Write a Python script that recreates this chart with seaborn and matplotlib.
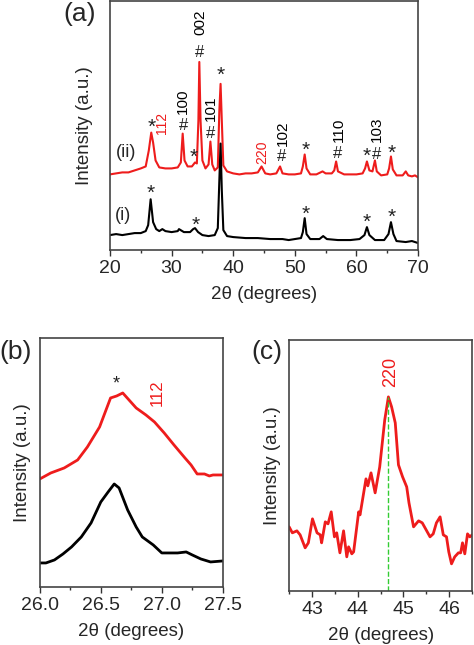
import matplotlib
matplotlib.use("Agg")
import matplotlib.pyplot as plt
import seaborn as sns
from matplotlib.ticker import MultipleLocator

# values (y in arbitrary offset units)
two_theta_i = [20, 21, 22, 23, 24, 25, 25.8, 26.2, 26.6, 27.0, 27.5, 28, 28.5, 29, 30, 31, 31.2,
               32, 33, 33.5, 33.8, 34.3, 35, 36, 37, 37.5, 37.75, 37.95, 38.15, 38.4, 39, 40,
               42, 44, 46, 48, 49, 50, 51, 51.3, 51.6, 51.9, 52.5, 54, 54.6, 55.2, 57, 59,
               60.5, 61.3, 61.7, 62.1, 63, 64.5, 65.2, 65.6, 66.0, 66.5, 68, 69, 70]
intensity_i = [15, 16, 15, 16, 17, 17, 19, 25, 51, 28, 21, 19, 21, 19, 18, 19, 21,
               18, 18, 21, 22, 18, 15, 14, 15, 22, 70, 107, 60, 20, 14, 13,
               12, 12, 11, 11, 10, 11, 12, 18, 32, 16, 11, 11, 14, 11, 10, 10,
               11, 15, 23, 15, 10, 10, 16, 28, 16, 9, 8, 9, 7]

two_theta_ii = [20, 21, 22, 23, 24, 25, 25.8, 26.3, 26.7, 27.0, 27.4, 28, 29, 30, 31, 31.5, 31.8,
                32.1, 32.6, 33.3, 33.8, 34.1, 34.35, 34.5, 34.7, 35.0, 35.5, 36.0, 36.3, 36.6,
                37.0, 37.5, 37.75, 37.95, 38.15, 38.4, 39, 40, 41, 42, 43, 44, 44.6, 45.2, 46,
                47, 47.6, 48, 49, 50, 51, 51.3, 51.6, 51.9, 52.5, 53.5, 54.5, 55, 56, 56.4,
                56.7, 57.0, 58, 59, 60, 61, 61.4, 61.7, 62.1, 62.6, 63.0, 63.3, 64, 65, 65.3,
                65.6, 65.9, 66.5, 67.5, 68.0, 68.4, 69, 69.5, 70]
intensity_ii = [76, 77, 78, 78, 80, 82, 84, 100, 118, 108, 90, 83, 82, 82, 83, 88, 117,
                90, 84, 84, 88, 87, 130, 189, 130, 90, 82, 86, 109, 86,
                80, 83, 140, 167, 130, 85, 79, 77, 76, 77, 77, 78, 84, 77, 76,
                77, 84, 77, 76, 76, 77, 84, 96, 82, 76, 76, 79, 77, 77, 80,
                89, 79, 76, 76, 76, 77, 82, 89, 80, 79, 90, 79, 75, 76, 82,
                94, 81, 75, 75, 79, 75, 74, 75, 73]

# panel (b): zoom on the 112 / * peak
zoom_b_i_x = [26.0, 26.05, 26.12, 26.19, 26.26, 26.34, 26.42, 26.50, 26.56, 26.61, 26.65, 26.72,
              26.79, 26.84, 26.93, 27.00, 27.08, 27.13, 27.20, 27.25, 27.32, 27.40, 27.5]
zoom_b_i_y = [24, 24, 27, 33, 40, 50, 64, 85, 95, 103, 99, 77,
              60, 50, 42, 34, 34, 34, 35, 32, 28, 25, 26]
zoom_b_ii_x = [26.0, 26.09, 26.2, 26.31, 26.39, 26.49, 26.58, 26.63, 26.68, 26.79, 26.87, 26.94,
               27.02, 27.10, 27.19, 27.24, 27.29, 27.35, 27.39, 27.42, 27.5]
zoom_b_ii_y = [108, 114, 119, 127, 140, 160, 189, 191, 194, 179, 172, 165,
               154, 142, 129, 122, 113, 113, 111, 112, 112]

# panel (c): zoom on the 220 peak
zoom_c_x = [42.5, 42.57, 42.67, 42.74, 42.85, 42.92, 43.01, 43.11, 43.18, 43.21, 43.29, 43.35,
            43.42, 43.49, 43.54, 43.61, 43.69, 43.76, 43.80, 43.87, 43.91, 44.02, 44.05, 44.18,
            44.22, 44.29, 44.38, 44.48, 44.59, 44.67, 44.74, 44.82, 44.89, 44.98, 45.07, 45.12,
            45.22, 45.33, 45.41, 45.58, 45.65, 45.72, 45.80, 45.87, 45.94, 45.99, 46.05, 46.12,
            46.20, 46.25, 46.29, 46.34, 46.40, 46.45, 46.5]
zoom_c_y = [64, 58, 60, 56, 43, 48, 72, 58, 56, 48, 69, 67,
            79, 54, 58, 38, 60, 34, 44, 37, 39, 79, 76, 112,
            105, 118, 98, 124, 171, 194, 184, 168, 126, 114, 104, 88,
            64, 70, 68, 54, 57, 68, 74, 56, 54, 39, 27, 34,
            38, 38, 48, 37, 57, 54, 56]
peak_220 = 44.67

sns.set_theme(style="white")
plt.rcParams["font.family"] = ["Liberation Sans", "DejaVu Sans"]

fig = plt.figure(figsize=(4.74, 6.45), dpi=100)
ax_a = fig.add_axes([0.232, 0.6124, 0.65, 0.3856])
ax_b = fig.add_axes([0.084, 0.090, 0.386, 0.386])
ax_c = fig.add_axes([0.610, 0.084, 0.386, 0.389])

red = "#ee1c1c"

# (a) full patterns
sns.lineplot(x=two_theta_ii, y=intensity_ii, color=red, linewidth=1.5, ax=ax_a)
sns.lineplot(x=two_theta_i, y=intensity_i, color="black", linewidth=1.5, ax=ax_a)
ax_a.set_xlim(20, 70)
ax_a.set_ylim(0, 250)
ax_a.xaxis.set_major_locator(MultipleLocator(10))
ax_a.xaxis.set_minor_locator(MultipleLocator(5))

star = dict(ha="center", va="center", fontsize=15, color="#222222")
for x, y in [(26.6, 57), (33.9, 25), (51.7, 36), (61.7, 28), (65.7, 33),
             (26.7, 123), (33.6, 93), (38.0, 176), (51.8, 100), (61.7, 94), (65.7, 97)]:
    ax_a.text(x, y, "*", **star)
hashm = dict(ha="center", va="center", fontsize=12, color="#222222")
for x, y in [(31.9, 125), (34.6, 199), (36.4, 117), (47.8, 94), (56.9, 97), (63.2, 96)]:
    ax_a.text(x, y, "#", **hashm)
vlab = dict(ha="center", va="center", rotation=90, fontsize=11)
ax_a.text(31.9, 150, "100", color="black", **vlab)
ax_a.text(34.6, 229, "002", color="black", **vlab)
ax_a.text(36.4, 142, "101", color="black", **vlab)
ax_a.text(48.0, 117, "102", color="black", **vlab)
ax_a.text(57.1, 121, "110", color="black", **vlab)
ax_a.text(63.3, 121, "103", color="black", **vlab)
ax_a.text(28.4, 128, "112", color=red, ha="center", va="center", rotation=90, fontsize=10)
ax_a.text(44.7, 98, "220", color=red, ha="center", va="center", rotation=90, fontsize=10)
ax_a.text(22.6, 98, "(ii)", ha="center", va="center", fontsize=13)
ax_a.text(22.1, 35, "(i)", ha="center", va="center", fontsize=13)

# (b) 112 region
sns.lineplot(x=zoom_b_ii_x, y=zoom_b_ii_y, color=red, linewidth=2, ax=ax_b)
sns.lineplot(x=zoom_b_i_x, y=zoom_b_i_y, color="black", linewidth=2, ax=ax_b)
ax_b.set_xlim(26.0, 27.5)
ax_b.set_ylim(0, 249)
ax_b.xaxis.set_minor_locator(MultipleLocator(0.25))
ax_b.set_xticks([26.0, 26.5, 27.0, 27.5], ["26.0", "26.5", "27.0", "27.5"])
ax_b.text(26.63, 203, "*", ha="center", va="center", fontsize=13, color="#222222")
ax_b.text(26.96, 194, "112", color=red, ha="center", va="center", rotation=90, fontsize=12)

# (c) 220 region
sns.lineplot(x=zoom_c_x, y=zoom_c_y, color=red, linewidth=2, ax=ax_c)
ax_c.plot([peak_220, peak_220], [0, 194], color="#33cc33", linestyle="--", linewidth=1)
ax_c.set_xlim(42.5, 46.5)
ax_c.set_ylim(0, 251)
ax_c.xaxis.set_major_locator(MultipleLocator(1))
ax_c.xaxis.set_minor_locator(MultipleLocator(0.5))
ax_c.text(44.71, 219, "220", color=red, ha="center", va="center", rotation=90, fontsize=13)

for ax, fs, pad in [(ax_a, 13.5, 12), (ax_b, 13.5, 6), (ax_c, 13.5, 6)]:
    ax.set_yticks([])
    ax.set_xlabel("2θ (degrees)", fontsize=fs, labelpad=6)
    ax.set_ylabel("Intensity (a.u.)", fontsize=fs, labelpad=pad)
    ax.tick_params(axis="x", which="major", direction="out", length=4, width=1,
                   labelsize=fs + 0.5, bottom=True, color="#333333")
    ax.tick_params(axis="x", which="minor", direction="out", length=2.5, width=1,
                   bottom=True, color="#333333")
    for s in ax.spines.values():
        s.set_color("#444444")
        s.set_linewidth(1.2)

fig.text(0.169, 0.978, "(a)", fontsize=19, ha="center", va="center")
fig.text(0.032, 0.454, "(b)", fontsize=19, ha="center", va="center")
fig.text(0.563, 0.454, "(c)", fontsize=19, ha="center", va="center")

fig.savefig("out.png", dpi=100)
